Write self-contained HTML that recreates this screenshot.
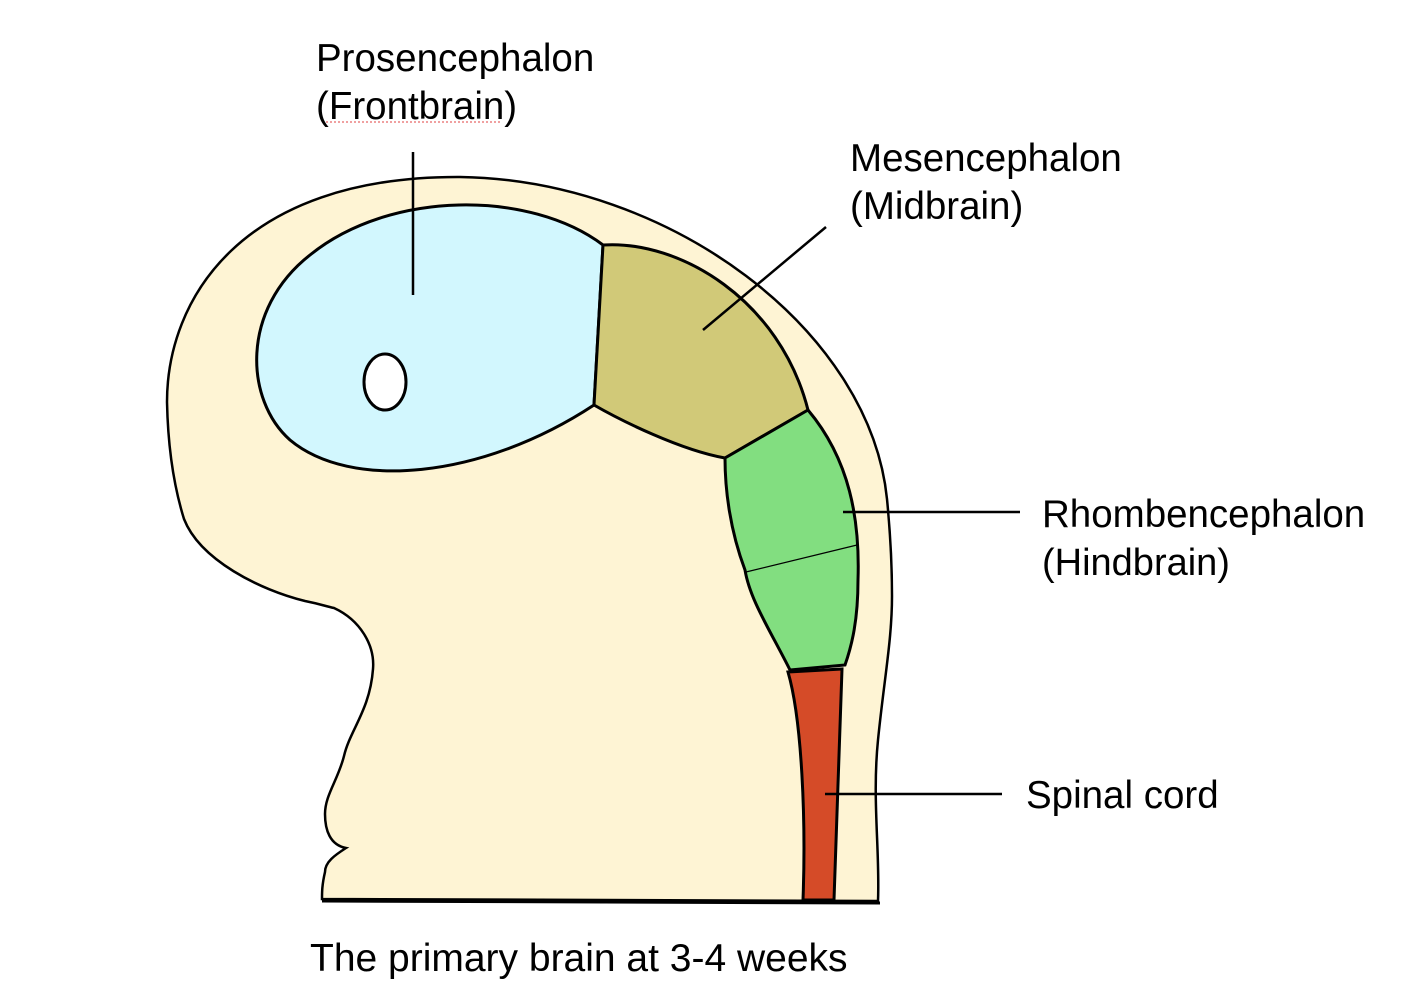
<!DOCTYPE html>
<html><head><style>
html,body{margin:0;padding:0;background:#fff;}
svg{display:block;}
text{font-family:"Liberation Sans",Arial,sans-serif;font-size:38.5px;fill:#000;}
</style></head><body>
<svg width="1428" height="1002" viewBox="0 0 1428 1002">
<path d="M322,899 L878,901 C880,850 872,800 878,740 C884,680 892,640 892,596 C892,560 890,530 887,499 C870,330 670,180 460,177 C240,176 167,300 167,402 C168,450 175,490 184,519 C200,560 260,590 305,601 C320,604 325,606 334,608 C360,620 375,645 373,669 C370,710 350,730 344,756 C338,780 325,795 325,814 C325,830 330,845 346,848 C335,855 325,862 325,872 C322,885 322,892 322,899 Z" fill="#fef4d4" stroke="#000" stroke-width="2.5"/>
<line x1="322" y1="901" x2="880" y2="903" stroke="#000" stroke-width="3"/>
<path d="M603,245 C530,190 390,190 310,255 C240,310 245,400 290,440 C350,490 480,480 594,405 Z" fill="#d2f7fe" stroke="#000" stroke-width="3"/>
<path d="M603,245 C680,240 780,300 808,410 L725,458 C680,450 620,420 594,405 Z" fill="#d1c978" stroke="#000" stroke-width="3"/>
<path d="M725,458 L808,410 C850,460 860,520 858,580 C858,620 852,645 845,665 L790,670 C770,630 750,600 745,570 C730,530 725,490 725,458 Z" fill="#82de80" stroke="#000" stroke-width="3"/>
<line x1="746" y1="572" x2="857" y2="545" stroke="#000" stroke-width="1.2"/>
<path d="M788,672 L842,669 L834,900 L803,900 C806,820 802,720 788,672 Z" fill="#d54b28" stroke="#000" stroke-width="3"/>
<ellipse cx="385" cy="382" rx="21" ry="28" fill="#fff" stroke="#000" stroke-width="3"/>
<g stroke="#000" stroke-width="2.5">
<line x1="413" y1="152" x2="413" y2="295"/>
<line x1="826" y1="227" x2="703" y2="330"/>
<line x1="843" y1="512" x2="1020" y2="512"/>
<line x1="825" y1="794" x2="1002" y2="794"/>
</g>
<text x="316" y="71">Prosencephalon</text>
<text x="316" y="119">(Frontbrain)</text>
<line x1="326" y1="122" x2="500" y2="122" stroke="#e04040" stroke-width="1" stroke-dasharray="2,2"/>
<text x="850" y="171">Mesencephalon</text>
<text x="850" y="219">(Midbrain)</text>
<text x="1042" y="527">Rhombencephalon</text>
<text x="1042" y="575" style="font-size:38px">(Hindbrain)</text>
<text x="1026" y="808">Spinal cord</text>
<text x="310" y="971" style="font-size:39px">The primary brain at 3-4 weeks</text>
</svg>
</body></html>
